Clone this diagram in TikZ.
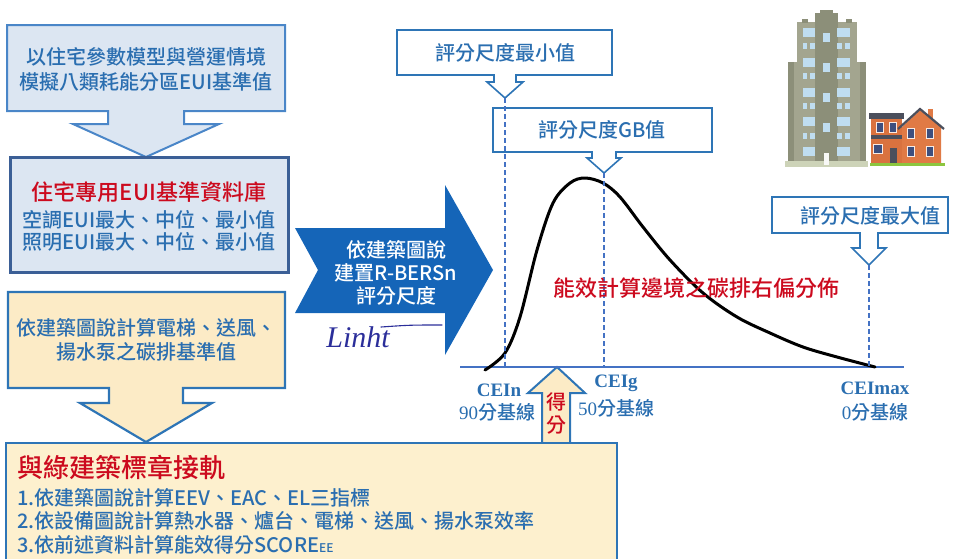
\documentclass[tikz,border=0pt]{standalone}
\usepackage{fontspec}
\setmainfont{Noto Sans CJK TC}[UprightFont={* Medium},BoldFont={* Bold}]
\newfontfamily\serifen{Liberation Serif}

\definecolor{paleblue}{HTML}{DCE6F2}
\definecolor{edgeblue}{HTML}{4A86C8}
\definecolor{deepedge}{HTML}{3B5F96}
\definecolor{paleyellow}{HTML}{FCEBC6}
\definecolor{lightyellow}{HTML}{FDF0CE}
\definecolor{lineblue}{HTML}{2E75B6}
\definecolor{textblue}{HTML}{2A6EB0}
\definecolor{textred}{HTML}{CC0A1E}
\definecolor{arrowblue}{HTML}{1565B8}
\definecolor{axisblue}{HTML}{4472C4}
\definecolor{inkblue}{HTML}{2B2E9A}
\definecolor{towerA}{HTML}{A3A58F}
\definecolor{towerB}{HTML}{8C8F79}
\definecolor{glass}{HTML}{BFDDF0}
\definecolor{towerbase}{HTML}{CDD3B8}
\definecolor{brick}{HTML}{D9723F}
\definecolor{brickB}{HTML}{E07A45}
\definecolor{slate}{HTML}{4B4F5C}
\definecolor{pane}{HTML}{3E4F7E}
\definecolor{grass}{HTML}{8CC63F}

\newcommand\fz[2]{\fontsize{#1}{#2}\selectfont}
% down-pointing callout: box corners, centre x, stem half width, stem end y, wing half width, tip y
\newcommand\calloutpath[9]{(#1,#2) -- (#3,#2) -- (#3,#4) -- ({#5+#6},#4) -- ({#5+#6},#7) -- ({#5+#8},#7) -- (#5,#9) -- ({#5-#8},#7) -- ({#5-#6},#7) -- ({#5-#6},#4) -- (#1,#4) -- cycle}

\begin{document}
\begin{tikzpicture}[x=1pt,y=-1pt,
  bluecall/.style={draw=edgeblue,line width=2pt,fill=paleblue,line join=miter},
  yellowcall/.style={draw=lineblue,line width=2.2pt,fill=paleyellow,line join=miter},
  whitecall/.style={draw=lineblue,line width=1.6pt,fill=white,line join=miter},
  bluetxt/.style={text=textblue,align=center,inner sep=0pt},
  redtxt/.style={text=textred,align=center,inner sep=0pt},
  leftline/.style={text=textblue,anchor=west,inner sep=0pt,font=\fz{20}{24}},
  guide/.style={draw=axisblue,line width=1.8pt,dash pattern=on 5pt off 3pt},
  ceitxt/.style={text=textblue,font=\serifen\bfseries\fz{19}{22},inner sep=0pt},
  basetxt/.style={text=textblue,font=\fz{19}{22},inner sep=0pt}]
\useasboundingbox (0,0) rectangle (960,558);

% ---------- left column ----------
\draw[bluecall] \calloutpath{7}{25}{285}{111}{146}{38}{124}{73}{157};
\node[bluetxt,font=\fz{20}{25}] (model) at (146,69.5) {以住宅參數模型與營運情境\\模擬八類耗能分區EUI基準值};

\draw[draw=deepedge,line width=3pt,fill=paleblue] (10,157) rectangle (288,272);
\node[redtxt,font=\fz{22}{26}] (dbtitle) at (149,192) {住宅專用EUI基準資料庫};
\node[bluetxt,font=\fz{20}{22}] (dbrows) at (149,231) {空調EUI最大、中位、最小值\\照明EUI最大、中位、最小值};

\draw[yellowcall] \calloutpath{8}{292}{285}{388}{146}{37}{403}{66}{442};
\node[bluetxt,font=\fz{20}{24}] (lift) at (146.5,340) {依建築圖說計算電梯、送風、\\揚水泵之碳排基準值};

% score arrow rising from the label box
\draw[draw=lineblue,line width=2pt,fill=paleyellow,line join=miter]
  (557,367) -- (585,393) -- (570,393) -- (570,446) -- (542,446) -- (542,393) -- (528,393) -- cycle;
\node[redtxt,font=\fz{20}{23}] (score) at (556,413) {得\\分};

\draw[draw=lineblue,line width=2.4pt,fill=lightyellow] (6,443) rectangle (617,575);
\node[text=textred,anchor=west,inner sep=0pt,font=\fz{26}{30}] (label) at (17,468) {與綠建築標章接軌};
\node[leftline] (step1) at (17,498) {1.依建築圖說計算EEV、EAC、EL三指標};
\node[leftline] (step2) at (17,521) {2.依設備圖說計算熱水器、爐台、電梯、送風、揚水泵效率};
\node[leftline] (step3) at (17,545) {3.依前述資料計算能效得分SCORE{\fz{12}{14}EE}};

% ---------- big arrow ----------
\fill[arrowblue] (295,228) -- (445,228) -- (445,185) -- (493,270) -- (445,355) -- (445,313) -- (295,313) -- (318,270) -- cycle;
\node[text=white,align=center,inner sep=0pt,font=\fz{20}{23}] (rbers) at (396,273) {依建築圖說\\建置R-BERSn\\評分尺度};
\node[text=inkblue,inner sep=0pt,font=\serifen\itshape\fz{30}{32}] (sig) at (358,337) {Linht};
\draw[inkblue,line width=1.1pt,line cap=round] (381,327) .. controls (410,325) .. (442,325);

% ---------- distribution ----------
\draw[whitecall] \calloutpath{397}{30}{612}{75}{505}{11}{82}{18}{98};
\node[bluetxt,font=\fz{20}{24}] (minval) at (505,53) {評分尺度最小值};
\draw[whitecall] \calloutpath{493}{108}{712}{152}{604}{12}{158}{17}{173};
\node[bluetxt,font=\fz{20}{24}] (gbval) at (602,130) {評分尺度GB值};
\draw[whitecall] \calloutpath{772}{197}{948}{233}{869}{9}{248}{17}{265};
\node[bluetxt,font=\fz{20}{24}] (maxval) at (870,216) {評分尺度最大值};

\coordinate (axisL) at (460,367);
\coordinate (axisR) at (904,367);
\draw[axisblue,line width=2.4pt] (axisL) -- (axisR);

\draw[black,line width=3pt,line cap=round] plot[smooth,tension=0.55] coordinates {
  (485,370) (505,353) (520,317) (537,250) (553,203) (570,183) (585,178)
  (603,183) (620,197) (643,227) (670,260) (703,293) (737,317) (770,333)
  (803,347) (837,357) (875,367)};

\draw[guide] (505,98) -- (505,367);
\draw[guide] (604,173) -- (604,367);
\draw[guide] (869,265) -- (869,367);

\node[redtxt,font=\fz{22}{24}] (skew) at (696,288) {能效計算邊境之碳排右偏分佈};

\node[ceitxt] (ceinT) at (499,390) {CEIn};
\node[basetxt] (ceinB) at (497,412) {{\serifen 90}分基線};
\node[ceitxt] (ceigT) at (616,383) {CEIg};
\node[basetxt] (ceigB) at (616,408) {{\serifen 50}分基線};
\node[ceitxt] (ceimT) at (875,388) {CEImax};
\node[basetxt] (ceimB) at (875,412) {{\serifen 0}分基線};

% ---------- buildings ----------
% tower
\fill[towerA] (788,62) rectangle (866,165);
\fill[towerA] (797,22) rectangle (857,62);
\fill[towerB] (788,62) rectangle (794,165);
\fill[towerB] (860,62) rectangle (866,165);
\fill[towerB] (815,13) rectangle (838,165);
\fill[towerB] (820,10) rectangle (833,15);
\fill[towerB] (802,19) rectangle (808,23);
\fill[towerB] (846,19) rectangle (852,23);
\foreach \y in {28,58,88,117,147} {
  \fill[glass] (803,\y) rectangle (815,\y+9);
  \fill[glass] (837,\y) rectangle (850,\y+9);
}
\foreach \y in {43,73,103,133} {
  \fill[glass] (803,\y) rectangle (807,\y+6);
  \fill[glass] (810,\y) rectangle (815,\y+6);
  \fill[glass] (837,\y) rectangle (842,\y+6);
  \fill[glass] (845,\y) rectangle (850,\y+6);
}
\foreach \y in {33,63,93,123} {
  \fill[glass] (823,\y) rectangle (830,\y+9);
}
\fill[towerbase] (785,161) rectangle (868,167);
\fill[white!92!towerA] (824,153) rectangle (829,165);

% house
\fill[brick] (871,119) rectangle (902,163);
\fill[slate] (869,113) rectangle (904,119);
\fill[slate] (871,135) rectangle (902,139);
\fill[brickB] (928,109) rectangle (933,118);
\fill[brickB] (902,127) -- (920,110) -- (941,127) -- (941,163) -- (902,163) -- cycle;
\draw[slate,line width=2.2pt,line join=miter] (898,129) -- (920,109) -- (944,129);
\foreach \x in {877,890} {
  \fill[white!85!brick] (\x-1,122) rectangle (\x+7,133);
  \fill[pane] (\x,123) rectangle (\x+6,132);
}
\fill[white!85!brick] (873,144) rectangle (883,154);
\fill[pane] (874,145) rectangle (882,153);
\fill[slate] (890,148) rectangle (897,163);
\foreach \x in {908,927} {
  \foreach \y in {129,147} {
    \fill[white!85!brick] (\x-1,\y-1) rectangle (\x+7,\y+10);
    \fill[pane] (\x,\y) rectangle (\x+6,\y+9);
  }
}
\fill[grass] (870,163) rectangle (945,166);
\end{tikzpicture}
\end{document}
